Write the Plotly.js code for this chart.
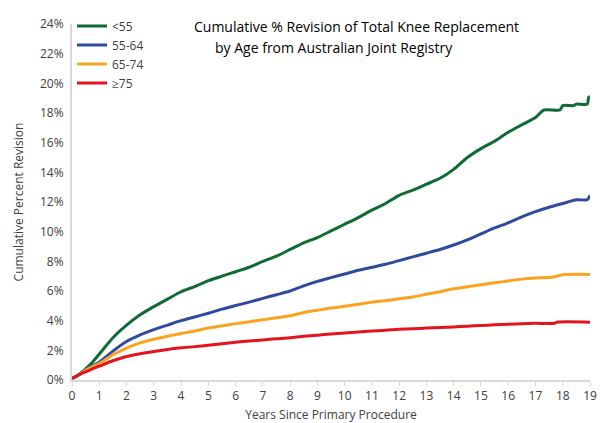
<!DOCTYPE html>
<html>
<head>
<meta charset="utf-8">
<script src="https://cdn.plot.ly/plotly-3.0.1.min.js"></script>
<style>html,body{margin:0;padding:0;background:#fff;}#chart{width:606px;height:423px;}</style>
</head>
<body>
<div id="chart"></div>
<script>
const seriesNames = ["<55", "55-64", "65-74", "\u226575"];
const seriesColors = ["#0e6b35", "#2d4a9e", "#fba31f", "#e3141e"];

const yearsGreen = [0,0.25,0.5,0.75,1,1.5,2,2.5,3,3.5,4,4.5,5,5.5,6,6.5,7,7.5,8,8.5,9,9.5,10,10.5,11,11.5,12,12.5,13,13.5,14,14.5,15,15.5,16,16.5,17,17.3,17.9,18.0,18.4,18.5,18.9,18.95,19];
const revGreen =   [0.1,0.35,0.75,1.2,1.75,2.85,3.7,4.4,4.95,5.45,5.95,6.3,6.7,7.0,7.3,7.6,8.0,8.35,8.8,9.25,9.6,10.05,10.5,10.95,11.45,11.9,12.45,12.8,13.2,13.6,14.2,15.0,15.6,16.1,16.7,17.2,17.7,18.2,18.2,18.5,18.5,18.6,18.6,19.05,19.1];

const yearsBlue = [0,0.25,0.5,0.75,1,1.5,2,2.5,3,3.5,4,4.5,5,5.5,6,6.5,7,7.5,8,8.5,9,9.5,10,10.5,11,11.5,12,12.5,13,13.5,14,14.5,15,15.5,16,16.5,17,17.5,18,18.5,18.9,19];
const revBlue =   [0.1,0.35,0.7,0.95,1.2,1.95,2.6,3.05,3.4,3.7,4.0,4.25,4.5,4.78,5.02,5.25,5.5,5.75,6.0,6.35,6.65,6.9,7.15,7.4,7.6,7.8,8.05,8.3,8.55,8.8,9.1,9.45,9.85,10.25,10.6,11.0,11.35,11.65,11.9,12.15,12.15,12.45];

const yearsOrange = [0,0.25,0.5,0.75,1,1.5,2,2.5,3,3.5,4,4.5,5,5.5,6,6.5,7,7.5,8,8.5,9,9.5,10,10.5,11,11.5,12,12.5,13,13.5,14,14.5,15,15.5,16,16.5,17,17.6,18.0,19];
const revOrange =   [0.1,0.35,0.65,0.9,1.1,1.7,2.15,2.5,2.75,2.95,3.13,3.3,3.5,3.65,3.8,3.93,4.06,4.2,4.33,4.55,4.7,4.85,4.97,5.1,5.25,5.35,5.48,5.6,5.78,5.95,6.15,6.28,6.42,6.55,6.68,6.8,6.88,6.92,7.1,7.12];

const yearsRed = [0,0.25,0.5,0.75,1,1.5,2,2.5,3,3.5,4,4.5,5,5.5,6,6.5,7,7.5,8,8.5,9,9.5,10,10.5,11,11.5,12,12.5,13,13.5,14,14.5,15,15.5,16,16.5,17,17.7,17.8,19];
const revRed =   [0.1,0.35,0.55,0.75,0.93,1.3,1.58,1.77,1.92,2.05,2.17,2.25,2.35,2.45,2.55,2.63,2.7,2.78,2.85,2.95,3.02,3.1,3.17,3.24,3.3,3.35,3.42,3.46,3.5,3.54,3.58,3.63,3.67,3.72,3.76,3.8,3.82,3.82,3.9,3.9];

const xTickVals = [0,1,2,3,4,5,6,7,8,9,10,11,12,13,14,15,16,17,18,19];
const yTickVals = [0,2,4,6,8,10,12,14,16,18,20,22,24];
const yTickText = yTickVals.map(v => v + "%");

const xs = [yearsGreen, yearsBlue, yearsOrange, yearsRed];
const ys = [revGreen, revBlue, revOrange, revRed];

const traces = seriesNames.map((n, i) => ({
  x: xs[i], y: ys[i], name: n, type: "scatter", mode: "lines",
  line: {color: seriesColors[i], width: 3, shape: "spline", smoothing: 0.6}
}));

const font = "Open Sans, Liberation Sans, sans-serif";
const layout = {
  width: 606, height: 423,
  margin: {l: 72, r: 16, t: 17, b: 43},
  paper_bgcolor: "#fff", plot_bgcolor: "#fff",
  font: {family: font, size: 12, color: "#404040"},
  showlegend: true,
  legend: {x: 0.0, y: 1.035, xanchor: "left", yanchor: "top", bgcolor: "rgba(0,0,0,0)",
           font: {family: font, size: 12, color: "#404040"}, tracegroupgap: 0, itemwidth: 30},
  xaxis: {range: [0, 19], tickvals: xTickVals, showgrid: false, zeroline: false,
          showline: true, linecolor: "#d9d9d9", linewidth: 2, ticks: "outside", ticklen: 4, tickcolor: "#d9d9d9",
          tickfont: {size: 12, color: "#404040"},
          title: {text: "Years Since Primary Procedure", font: {size: 12, color: "#404040"}, standoff: 9}},
  yaxis: {range: [0, 24], tickvals: yTickVals, ticktext: yTickText, showgrid: false, zeroline: false,
          showline: true, linecolor: "#d9d9d9", linewidth: 2, ticks: "", ticklabelstandoff: 4,
          tickfont: {size: 12, color: "#404040"},
          title: {text: "Cumulative Percent Revision", font: {size: 12, color: "#404040"}, standoff: 14}},
  annotations: [
    {text: "Cumulative % Revision of Total Knee Replacement", xref: "paper", yref: "paper",
     x: (192 - 72) / 518, y: 1.025, xanchor: "left", yanchor: "top", showarrow: false,
     font: {family: font, size: 14, color: "#000"}},
    {text: "by Age from Australian Joint Registry", xref: "paper", yref: "paper",
     x: (213 - 72) / 518, y: 0.967, xanchor: "left", yanchor: "top", showarrow: false,
     font: {family: font, size: 14, color: "#000"}}
  ]
};

Plotly.newPlot("chart", traces, layout, {displayModeBar: false, staticPlot: true});
</script>
</body>
</html>
